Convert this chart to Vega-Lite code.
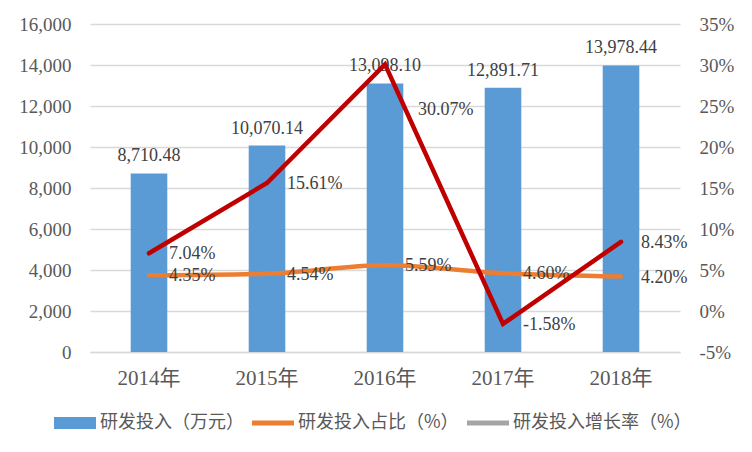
{
  "$schema": "https://vega.github.io/schema/vega-lite/v6.json",
  "width": 590,
  "height": 328,
  "autosize": {"type": "none"},
  "padding": {"left": 90, "top": 24, "right": 72, "bottom": 100},
  "background": "white",
  "config": {
    "view": {"stroke": null},
    "font": "Liberation Serif, Noto Sans CJK SC",
    "axis": {"labelFont": "Liberation Serif, Noto Sans CJK SC", "labelFontSize": 19, "labelColor": "#595959", "ticks": false, "domain": false, "title": null}
  },
  "data": {"values": [
    {"year": "2014年", "invest": 8710.48, "ratio": 4.35, "growth": 7.04},
    {"year": "2015年", "invest": 10070.14, "ratio": 4.54, "growth": 15.61},
    {"year": "2016年", "invest": 13098.10, "ratio": 5.59, "growth": 30.07},
    {"year": "2017年", "invest": 12891.71, "ratio": 4.60, "growth": -1.58},
    {"year": "2018年", "invest": 13978.44, "ratio": 4.20, "growth": 8.43}
  ]},
  "encoding": {
    "x": {
      "field": "year", "type": "ordinal", "sort": null,
      "scale": {"paddingInner": 0.69, "paddingOuter": 0.345},
      "axis": {"labelAngle": 0, "domain": true, "domainColor": "#d9d9d9", "domainWidth": 1.5, "labelPadding": 15, "labelFontSize": 21, "grid": false}
    }
  },
  "layer": [
    {
      "encoding": {
        "y": {
          "field": "invest", "type": "quantitative",
          "scale": {"domain": [0, 16000], "nice": false},
          "axis": {"orient": "left", "values": [0, 2000, 4000, 6000, 8000, 10000, 12000, 14000, 16000], "format": ",.0f", "labelPadding": 19, "grid": true, "gridColor": "#d9d9d9", "gridWidth": 1.5}
        }
      },
      "layer": [
        {"mark": {"type": "bar", "color": "#5b9bd5"}},
        {"mark": {"type": "text", "baseline": "bottom", "dy": -8, "fontSize": 18, "color": "#404040", "font": "Liberation Serif"},
         "encoding": {"text": {"field": "invest", "type": "quantitative", "format": ",.2f"}}}
      ]
    },
    {
      "encoding": {
        "y": {
          "type": "quantitative",
          "scale": {"domain": [-5, 35], "nice": false},
          "axis": {"orient": "right", "values": [-5, 0, 5, 10, 15, 20, 25, 30, 35], "labelExpr": "datum.value + '%'", "labelPadding": 19, "grid": false}
        }
      },
      "layer": [
        {"mark": {"type": "line", "color": "#ed7d31", "strokeWidth": 4.5, "interpolate": "monotone", "strokeCap": "round"},
         "encoding": {"y": {"field": "ratio", "type": "quantitative"}}},
        {"mark": {"type": "text", "align": "left", "baseline": "middle", "dx": 20, "dy": 1, "fontSize": 18, "color": "#404040", "font": "Liberation Serif", "text": {"expr": "format(datum.ratio, '.2f') + '%'"}},
         "encoding": {"y": {"field": "ratio", "type": "quantitative"}}},
        {"mark": {"type": "line", "color": "#c00000", "strokeWidth": 4.5, "strokeCap": "round", "strokeJoin": "miter"},
         "encoding": {"y": {"field": "growth", "type": "quantitative"}}},
        {"transform": [{"filter": "datum.growth != 30.07"}],
         "mark": {"type": "text", "align": "left", "baseline": "middle", "dx": 20, "dy": 1, "fontSize": 18, "color": "#404040", "font": "Liberation Serif", "text": {"expr": "(datum.growth < 0 ? '-' : '') + format(abs(datum.growth), '.2f') + '%'"}},
         "encoding": {"y": {"field": "growth", "type": "quantitative"}}},
        {"transform": [{"filter": "datum.growth == 30.07"}],
         "mark": {"type": "text", "align": "left", "baseline": "middle", "dx": 33, "dy": 46, "fontSize": 18, "color": "#404040", "font": "Liberation Serif", "text": {"expr": "format(datum.growth, '.2f') + '%'"}},
         "encoding": {"y": {"field": "growth", "type": "quantitative"}}},
        {
          "data": {"values": [
            {"series": "研发投入（万元）"},
            {"series": "研发投入占比（%）"},
            {"series": "研发投入增长率（%）"}
          ]},
          "transform": [{"filter": "datum.series == 'none'"}],
          "mark": {"type": "point", "filled": true, "opacity": 1},
          "encoding": {
            "x": null,
            "color": {
              "field": "series", "type": "nominal",
              "scale": {"domain": ["研发投入（万元）", "研发投入占比（%）", "研发投入增长率（%）"], "range": ["#5b9bd5", "#ed7d31", "#a5a5a5"]},
              "legend": {"orient": "none", "legendX": -36, "legendY": 378, "direction": "horizontal", "title": null, "symbolSize": 1764, "symbolStrokeWidth": 0, "symbolOpacity": 1, "labelFont": "Noto Sans CJK SC", "labelFontSize": 18, "labelColor": "#595959", "labelOffset": 4, "columnPadding": 8, "labelLimit": 300, "padding": 0}
            },
            "shape": {
              "field": "series", "type": "nominal",
              "scale": {"domain": ["研发投入（万元）", "研发投入占比（%）", "研发投入增长率（%）"], "range": ["M-1,-0.29H1V0.29H-1Z", "M-1,-0.12H1V0.12H-1Z", "M-1,-0.12H1V0.12H-1Z"]},
              "legend": {"orient": "none", "legendX": -36, "legendY": 378, "direction": "horizontal", "title": null}
            }
          }
        }
      ]
    }
  ],
  "resolve": {"scale": {"y": "independent"}}
}
